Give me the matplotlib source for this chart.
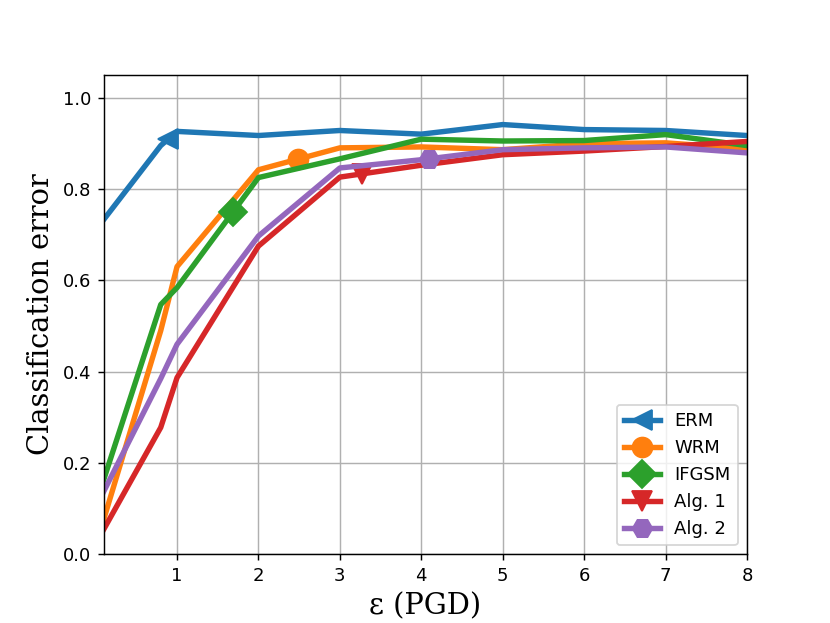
import numpy as np
import matplotlib.pyplot as plt

eps = [0.1, 0.8, 1, 2, 3, 4, 5, 6, 7, 8]
erm = [0.733, 0.895, 0.926, 0.917, 0.928, 0.920, 0.941, 0.930, 0.928, 0.917]
wrm = [0.077, 0.49, 0.63, 0.842, 0.890, 0.892, 0.886, 0.899, 0.901, 0.888]
ifgsm = [0.164, 0.547, 0.584, 0.825, 0.866, 0.909, 0.905, 0.906, 0.919, 0.895]
alg1 = [0.055, 0.278, 0.387, 0.675, 0.826, 0.852, 0.875, 0.883, 0.893, 0.904]
alg2 = [0.138, 0.385, 0.46, 0.697, 0.846, 0.864, 0.886, 0.89, 0.892, 0.879]

names = ['ERM', 'WRM', 'IFGSM', 'Alg. 1', 'Alg. 2']
series = [erm, wrm, ifgsm, alg1, alg2]
markers = ['<', 'o', 'D', 'v', 'H']
# where along each curve the single marker sits
mark_at = [0.89, 2.48, 1.685, 3.27, 4.1]

plt.figure(figsize=(830 / 130, 623 / 130), dpi=130)

for name, y, m, xm in zip(names, series, markers, mark_at):
    x = np.array(eps, dtype=float)
    y = np.array(y, dtype=float)
    i = np.searchsorted(x, xm)
    x2 = np.insert(x, i, xm)
    y2 = np.insert(y, i, np.interp(xm, x, y))
    plt.plot(x2, y2, marker=m, markevery=[int(i)], lw=3, ms=11, label=name)

plt.grid(True)
plt.xlim(0.1, 8)
plt.ylim(0, 1.05)
plt.xticks(range(1, 9))
plt.yticks(np.arange(0, 1.01, 0.2))
plt.xlabel('ε (PGD)', family='DejaVu Serif', fontsize=16)
plt.ylabel('Classification error', family='DejaVu Serif', fontsize=16)
plt.legend(loc='lower right')

plt.savefig('out.png', dpi=130)
